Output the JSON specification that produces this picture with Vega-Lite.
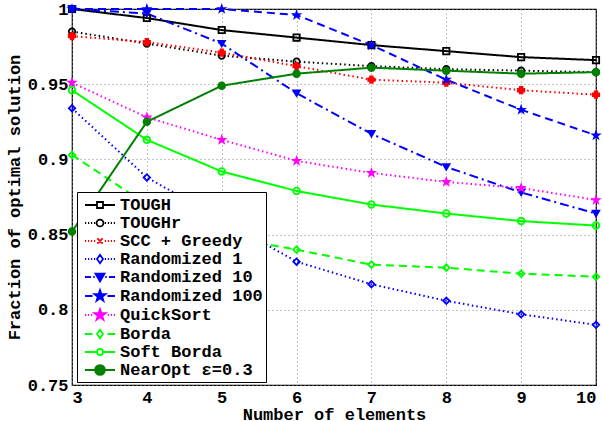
{
  "$schema": "https://vega.github.io/schema/vega-lite/v6.json",
  "width": 524,
  "height": 376,
  "autosize": {"type": "none"},
  "padding": {"left": 72, "top": 9, "right": 7, "bottom": 36},
  "background": "white",
  "config": {
    "font": "Liberation Mono",
    "view": {"stroke": "black", "strokeWidth": 1.2},
    "axis": {
      "labelFont": "Liberation Mono", "labelFontWeight": "bold", "labelFontSize": 17, "labelColor": "black",
      "titleFont": "Liberation Mono", "titleFontWeight": "bold", "titleFontSize": 17, "titleColor": "black",
      "domain": false, "ticks": false, "labelPadding": 4,
      "gridColor": "#888888", "gridDash": [1, 3], "gridWidth": 1, "gridOpacity": 1
    }
  },
  "data": {"values": [
    {"n":3,"series":"TOUGH","value":1.0},{"n":4,"series":"TOUGH","value":0.994},{"n":5,"series":"TOUGH","value":0.986},{"n":6,"series":"TOUGH","value":0.981},{"n":7,"series":"TOUGH","value":0.976},{"n":8,"series":"TOUGH","value":0.972},{"n":9,"series":"TOUGH","value":0.968},{"n":10,"series":"TOUGH","value":0.966},
    {"n":3,"series":"TOUGHr","value":0.985},{"n":4,"series":"TOUGHr","value":0.977},{"n":5,"series":"TOUGHr","value":0.969},{"n":6,"series":"TOUGHr","value":0.965},{"n":7,"series":"TOUGHr","value":0.962},{"n":8,"series":"TOUGHr","value":0.960},{"n":9,"series":"TOUGHr","value":0.959},{"n":10,"series":"TOUGHr","value":0.958},
    {"n":3,"series":"SCC + Greedy","value":0.982},{"n":4,"series":"SCC + Greedy","value":0.978},{"n":5,"series":"SCC + Greedy","value":0.971},{"n":6,"series":"SCC + Greedy","value":0.962},{"n":7,"series":"SCC + Greedy","value":0.953},{"n":8,"series":"SCC + Greedy","value":0.951},{"n":9,"series":"SCC + Greedy","value":0.946},{"n":10,"series":"SCC + Greedy","value":0.943},
    {"n":3,"series":"Randomized 1","value":0.934},{"n":4,"series":"Randomized 1","value":0.888},{"n":5,"series":"Randomized 1","value":0.860},{"n":6,"series":"Randomized 1","value":0.832},{"n":7,"series":"Randomized 1","value":0.817},{"n":8,"series":"Randomized 1","value":0.806},{"n":9,"series":"Randomized 1","value":0.797},{"n":10,"series":"Randomized 1","value":0.790},
    {"n":3,"series":"Randomized 10","value":1.0},{"n":4,"series":"Randomized 10","value":0.997},{"n":5,"series":"Randomized 10","value":0.977},{"n":6,"series":"Randomized 10","value":0.944},{"n":7,"series":"Randomized 10","value":0.917},{"n":8,"series":"Randomized 10","value":0.895},{"n":9,"series":"Randomized 10","value":0.878},{"n":10,"series":"Randomized 10","value":0.864},
    {"n":3,"series":"Randomized 100","value":1.0},{"n":4,"series":"Randomized 100","value":1.0},{"n":5,"series":"Randomized 100","value":1.0},{"n":6,"series":"Randomized 100","value":0.996},{"n":7,"series":"Randomized 100","value":0.976},{"n":8,"series":"Randomized 100","value":0.953},{"n":9,"series":"Randomized 100","value":0.933},{"n":10,"series":"Randomized 100","value":0.916},
    {"n":3,"series":"QuickSort","value":0.951},{"n":4,"series":"QuickSort","value":0.928},{"n":5,"series":"QuickSort","value":0.913},{"n":6,"series":"QuickSort","value":0.899},{"n":7,"series":"QuickSort","value":0.891},{"n":8,"series":"QuickSort","value":0.885},{"n":9,"series":"QuickSort","value":0.881},{"n":10,"series":"QuickSort","value":0.873},
    {"n":3,"series":"Borda","value":0.903},{"n":4,"series":"Borda","value":0.870},{"n":5,"series":"Borda","value":0.849},{"n":6,"series":"Borda","value":0.840},{"n":7,"series":"Borda","value":0.830},{"n":8,"series":"Borda","value":0.828},{"n":9,"series":"Borda","value":0.824},{"n":10,"series":"Borda","value":0.822},
    {"n":3,"series":"Soft Borda","value":0.946},{"n":4,"series":"Soft Borda","value":0.913},{"n":5,"series":"Soft Borda","value":0.892},{"n":6,"series":"Soft Borda","value":0.879},{"n":7,"series":"Soft Borda","value":0.870},{"n":8,"series":"Soft Borda","value":0.864},{"n":9,"series":"Soft Borda","value":0.859},{"n":10,"series":"Soft Borda","value":0.856},
    {"n":3,"series":"NearOpt ε=0.3","value":0.852},{"n":4,"series":"NearOpt ε=0.3","value":0.925},{"n":5,"series":"NearOpt ε=0.3","value":0.949},{"n":6,"series":"NearOpt ε=0.3","value":0.957},{"n":7,"series":"NearOpt ε=0.3","value":0.961},{"n":8,"series":"NearOpt ε=0.3","value":0.959},{"n":9,"series":"NearOpt ε=0.3","value":0.957},{"n":10,"series":"NearOpt ε=0.3","value":0.958}
  ]},
  "encoding": {
    "x": {"field": "n", "type": "quantitative", "scale": {"domain": [3, 10], "nice": false},
      "axis": {"values": [3,4,5,6,7,8,9,10], "title": "Number of elements", "titlePadding": 1}},
    "y": {"field": "value", "type": "quantitative", "scale": {"domain": [0.75, 1], "nice": false},
      "axis": {"values": [0.75,0.8,0.85,0.9,0.95,1], "format": ".2~f", "title": "Fraction of optimal solution", "titlePadding": 4}}
  },
  "layer": [
    {
      "mark": {"type": "line", "strokeWidth": 2},
      "encoding": {
        "color": {"field": "series", "type": "nominal", "legend": null,
          "scale": {"domain": ["TOUGH","TOUGHr","SCC + Greedy","Randomized 1","Randomized 10","Randomized 100","QuickSort","Borda","Soft Borda","NearOpt ε=0.3"],
            "range": ["#000000","#000000","#ff0000","#0000ff","#0000ff","#0000ff","#ff00ff","#00ff00","#00ff00","#008000"]}},
        "strokeDash": {"field": "series", "type": "nominal", "legend": null,
          "scale": {"domain": ["TOUGH","TOUGHr","SCC + Greedy","Randomized 1","Randomized 10","Randomized 100","QuickSort","Borda","Soft Borda","NearOpt ε=0.3"],
            "range": [[1,0],[1.5,3],[1.5,3],[1.5,3],[9,4,2,4],[8,5],[1.5,3],[8,5],[1,0],[1,0]]}}
      }
    },
    {
      "mark": {"type": "point", "filled": false, "strokeWidth": 1.8, "opacity": 1},
      "encoding": {
        "stroke": {"field": "series", "type": "nominal", "legend": null,
          "scale": {"domain": ["TOUGH","TOUGHr","SCC + Greedy","Randomized 1","Randomized 10","Randomized 100","QuickSort","Borda","Soft Borda","NearOpt ε=0.3"],
            "range": ["#000000","#000000","#ff0000","#0000ff","#0000ff","#0000ff","#ff00ff","#00ff00","#00ff00","#008000"]}},
        "fill": {"field": "series", "type": "nominal", "legend": null,
          "scale": {"domain": ["TOUGH","TOUGHr","SCC + Greedy","Randomized 1","Randomized 10","Randomized 100","QuickSort","Borda","Soft Borda","NearOpt ε=0.3"],
            "range": ["transparent","transparent","#ff0000","transparent","#0000ff","#0000ff","#ff00ff","transparent","transparent","#008000"]}},
        "shape": {"field": "series", "type": "nominal", "legend": null,
          "scale": {"domain": ["TOUGH","TOUGHr","SCC + Greedy","Randomized 1","Randomized 10","Randomized 100","QuickSort","Borda","Soft Borda","NearOpt ε=0.3"],
            "range": ["square","circle","cross","diamond","triangle-down",
              "M0,-1L0.235,-0.324L0.951,-0.309L0.380,0.124L0.588,0.809L0,0.4L-0.588,0.809L-0.380,0.124L-0.951,-0.309L-0.235,-0.324Z",
              "M0,-1L0.235,-0.324L0.951,-0.309L0.380,0.124L0.588,0.809L0,0.4L-0.588,0.809L-0.380,0.124L-0.951,-0.309L-0.235,-0.324Z",
              "diamond","circle","circle"]}},
        "size": {"field": "series", "type": "nominal", "legend": null,
          "scale": {"domain": ["TOUGH","TOUGHr","SCC + Greedy","Randomized 1","Randomized 10","Randomized 100","QuickSort","Borda","Soft Borda","NearOpt ε=0.3"],
            "range": [40,45,35,45,90,200,200,55,45,130]}}
      }
    },
    {
      "transform": [{"filter": "false"}],
      "mark": {"type": "point", "filled": false, "strokeWidth": 1.8, "opacity": 1},
      "encoding": {
        "stroke": {"field": "series", "type": "nominal", "title": null,
          "scale": {"domain": ["TOUGH","TOUGHr","SCC + Greedy","Randomized 1","Randomized 10","Randomized 100","QuickSort","Borda","Soft Borda","NearOpt ε=0.3"],
            "range": ["#000000","#000000","#ff0000","#0000ff","#0000ff","#0000ff","#ff00ff","#00ff00","#00ff00","#008000"]},
          "legend": {"orient": "none", "legendX": 5, "legendY": 183, "strokeColor": "black", "fillColor": "white", "padding": 3,
            "labelFont": "Liberation Mono", "labelFontWeight": "bold", "labelFontSize": 17, "labelColor": "black", "labelLimit": 400,
            "symbolSize": 324, "symbolStrokeWidth": 1.8, "symbolOpacity": 1, "symbolOffset": 10, "labelOffset": 10, "rowPadding": -0.8}},
        "fill": {"field": "series", "type": "nominal", "title": null,
          "scale": {"domain": ["TOUGH","TOUGHr","SCC + Greedy","Randomized 1","Randomized 10","Randomized 100","QuickSort","Borda","Soft Borda","NearOpt ε=0.3"],
            "range": ["transparent","transparent","#ff0000","transparent","#0000ff","#0000ff","#ff00ff","transparent","transparent","#008000"]}},
        "shape": {"field": "series", "type": "nominal", "title": null,
          "scale": {"domain": ["TOUGH","TOUGHr","SCC + Greedy","Randomized 1","Randomized 10","Randomized 100","QuickSort","Borda","Soft Borda","NearOpt ε=0.3"],
            "range": [
              "M-1.667,0L-0.333,0M0.333,0L1.667,0M-0.333,-0.333L0.333,-0.333L0.333,0.333L-0.333,0.333Z",
              "M-1.667,0h0.133M-1.333,0h0.133M-1,0h0.133M-0.667,0h0.133M0.533,0h0.133M0.867,0h0.133M1.2,0h0.133M1.533,0h0.133M-0.383,0A0.383,0.383 0 1,0 0.383,0A0.383,0.383 0 1,0 -0.383,0Z",
              "M-1.667,0h0.133M-1.333,0h0.133M-1,0h0.133M-0.667,0h0.133M0.533,0h0.133M0.867,0h0.133M1.2,0h0.133M1.533,0h0.133M-0.3,-0.3L0.3,0.3M0.3,-0.3L-0.3,0.3",
              "M-1.667,0h0.133M-1.333,0h0.133M-1,0h0.133M-0.667,0h0.133M0.533,0h0.133M0.867,0h0.133M1.2,0h0.133M1.533,0h0.133M0,-0.467L0.333,0L0,0.467L-0.333,0Z",
              "M-1.667,0h0.667M-0.75,0h0.167M0.583,0h0.167M1,0h0.667M-0.5,-0.367L0.5,-0.367L0,0.5Z",
              "M-1.667,0h0.833M0.833,0h0.833M0,-0.65L0.153,-0.211L0.618,-0.201L0.247,0.081L0.382,0.526L0,0.26L-0.382,0.526L-0.247,0.081L-0.618,-0.201L-0.153,-0.211Z",
              "M-1.667,0h0.133M-1.333,0h0.133M-1,0h0.133M0.867,0h0.133M1.2,0h0.133M1.533,0h0.133M0,-0.65L0.153,-0.211L0.618,-0.201L0.247,0.081L0.382,0.526L0,0.26L-0.382,0.526L-0.247,0.081L-0.618,-0.201L-0.153,-0.211Z",
              "M-1.667,0h0.833M0.833,0h0.833M0,-0.467L0.333,0L0,0.467L-0.333,0Z",
              "M-1.667,0L-0.333,0M0.333,0L1.667,0M-0.333,0A0.333,0.333 0 1,0 0.333,0A0.333,0.333 0 1,0 -0.333,0Z",
              "M-1.667,0L-0.55,0M0.55,0L1.667,0M-0.55,0A0.55,0.55 0 1,0 0.55,0A0.55,0.55 0 1,0 -0.55,0Z"
            ]}}
      }
    }
  ],
  "resolve": {
    "scale": {"color": "independent", "stroke": "independent", "fill": "independent", "shape": "independent", "size": "independent", "strokeDash": "independent"},
    "legend": {"color": "independent", "stroke": "independent", "fill": "independent", "shape": "independent", "size": "independent", "strokeDash": "independent"}
  }
}
